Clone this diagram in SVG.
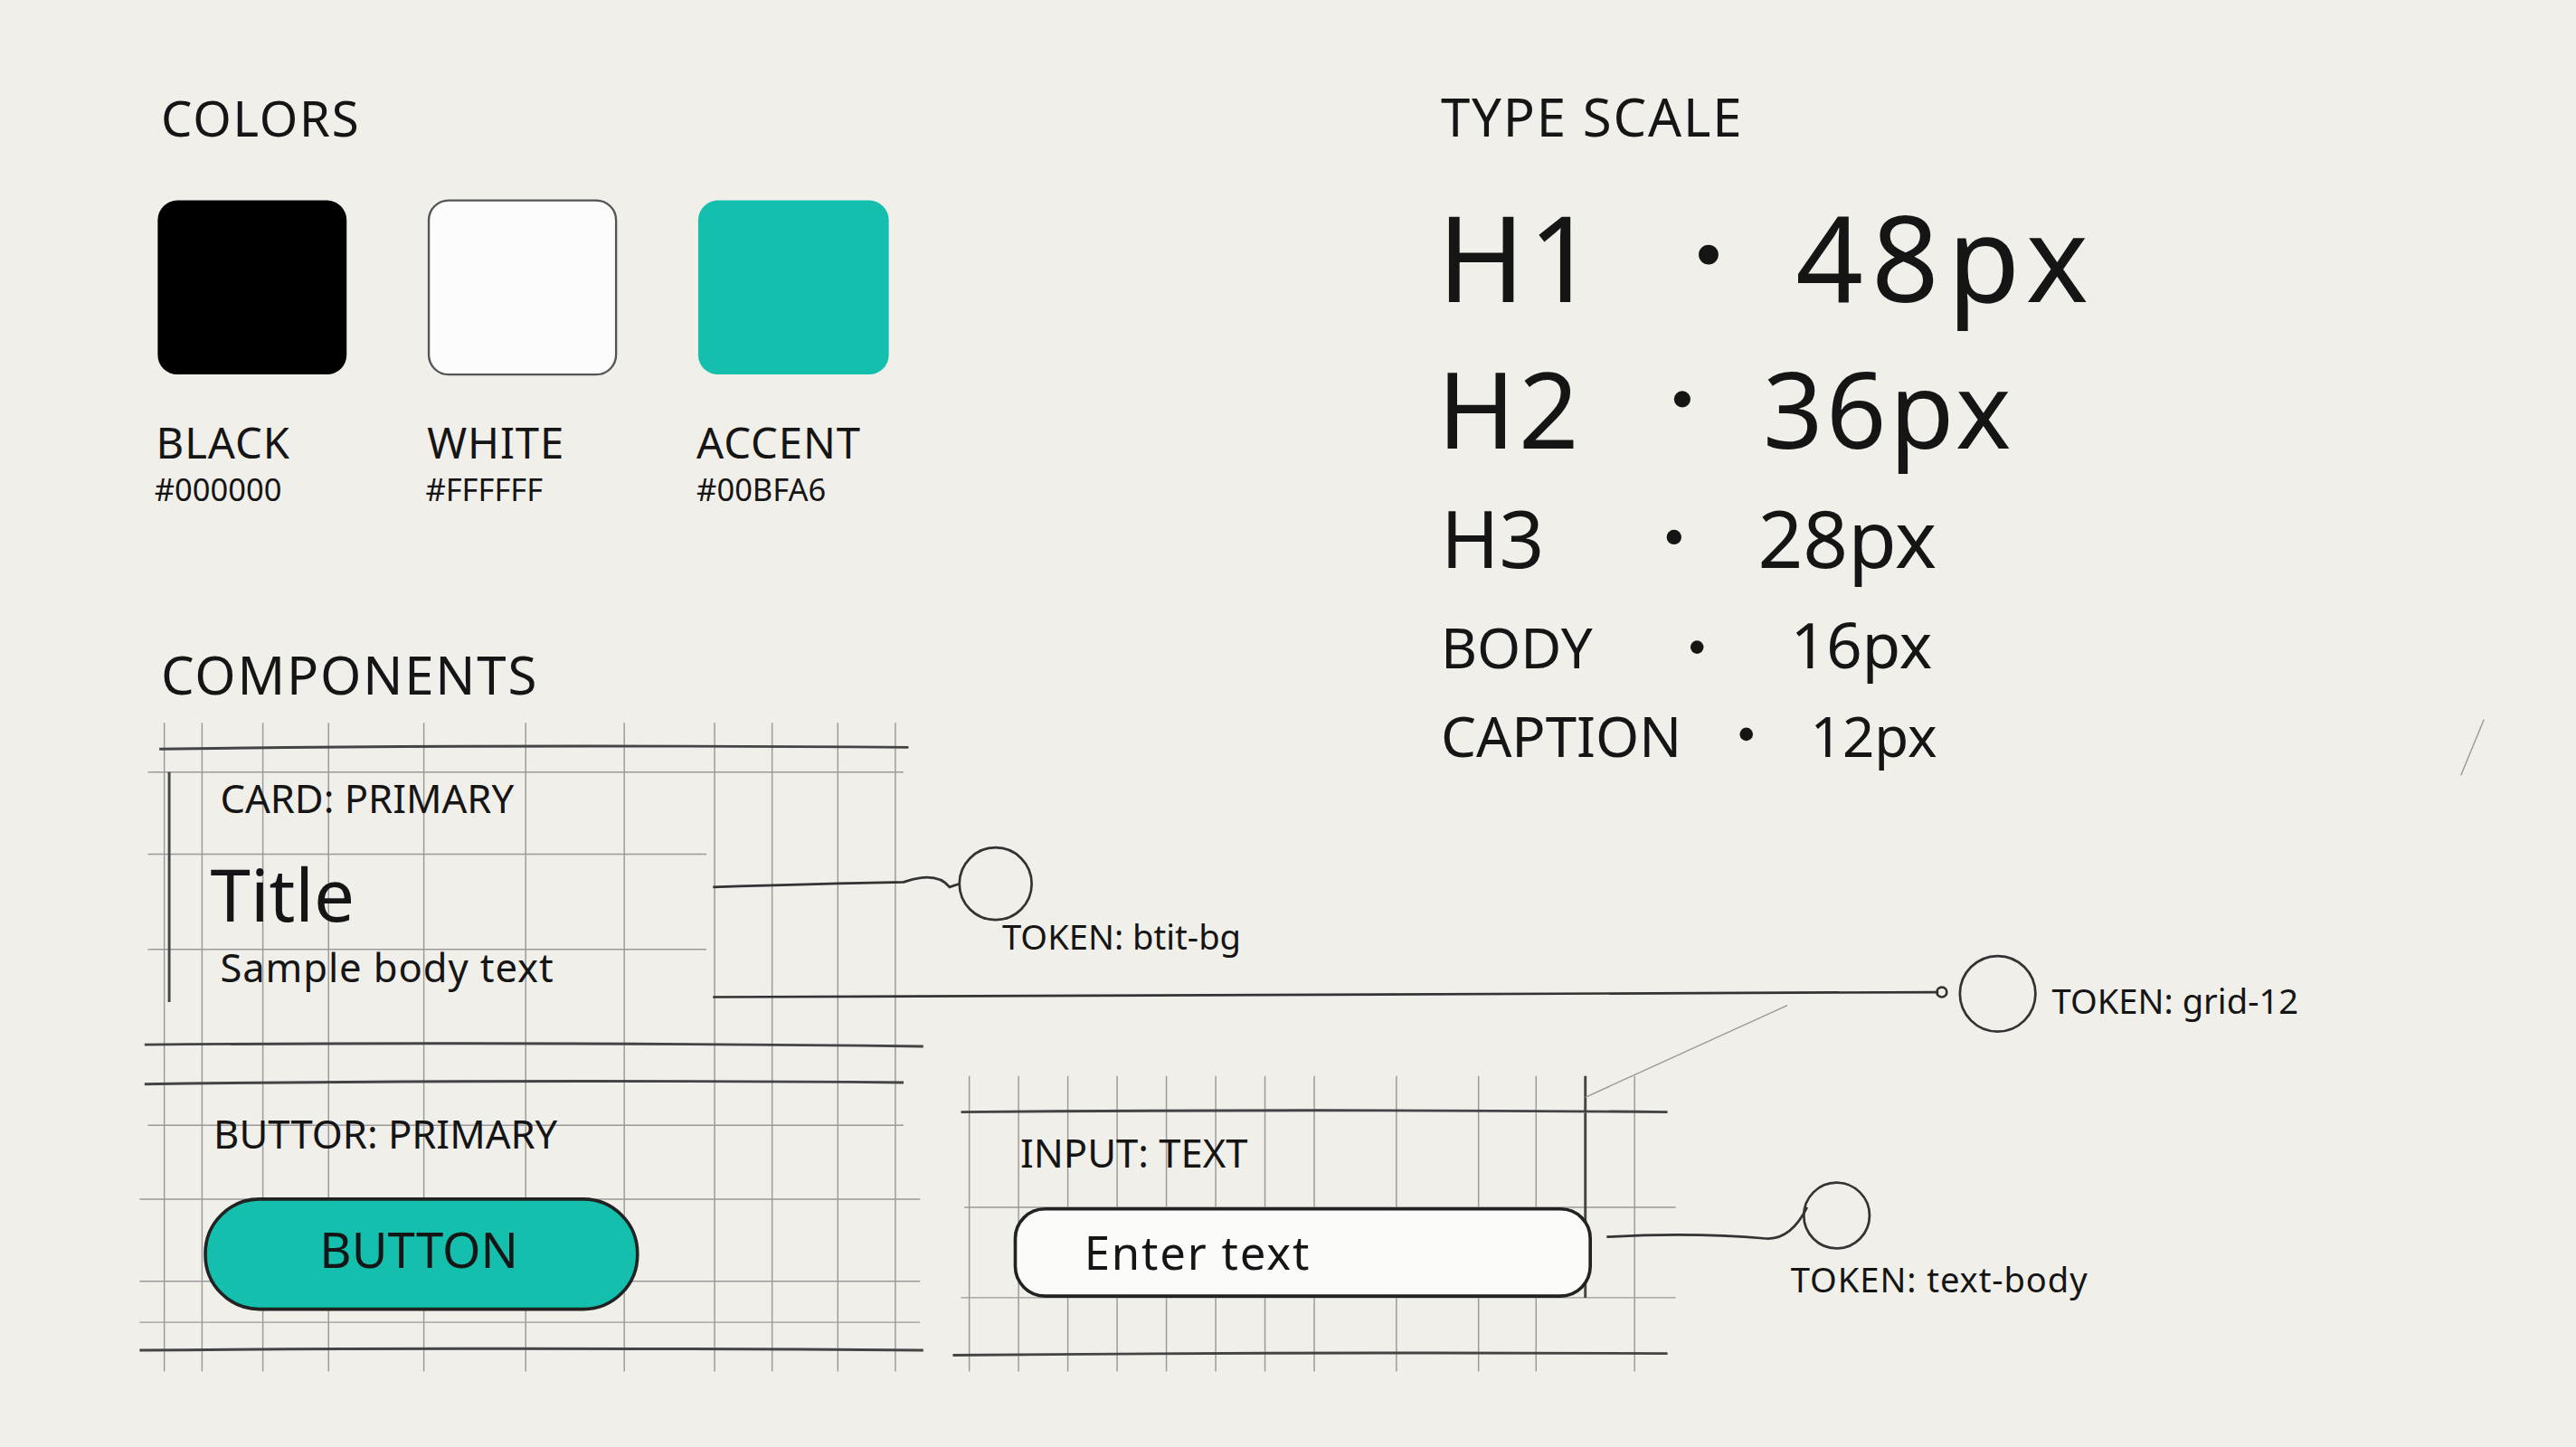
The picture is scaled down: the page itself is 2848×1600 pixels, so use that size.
<svg xmlns="http://www.w3.org/2000/svg" width="2848" height="1600" viewBox="0 0 2848 1600">
<style>
.t{font-family:"Noto Sans","Liberation Sans",sans-serif;fill:#151515}
.g{stroke:#9a9a9a;stroke-width:0.8;fill:none}
.h{stroke:#444;stroke-width:1.6;fill:none}
.c{stroke:#333;stroke-width:1.5;fill:none}
</style>
<rect width="2848" height="1600" fill="#f1efea"/>
<g transform="scale(1.8163)">
<g id="colors">
<text class="t" x="98" y="83" font-size="30" letter-spacing="1">COLORS</text>
<rect x="96" y="122" width="115" height="106" rx="12" fill="#000"/>
<rect x="261" y="122" width="114" height="106" rx="12" fill="#fcfcfc" stroke="#555" stroke-width="1.3"/>
<rect x="425" y="122" width="116" height="106" rx="12" fill="#14bfad"/>
<text class="t" x="95" y="279" font-size="26" letter-spacing="0.5">BLACK</text>
<text class="t" x="94" y="305" font-size="19">#000000</text>
<text class="t" x="260" y="279" font-size="26" letter-spacing="0.5">WHITE</text>
<text class="t" x="259" y="305" font-size="19">#FFFFFF</text>
<text class="t" x="424" y="279" font-size="26" letter-spacing="0.5">ACCENT</text>
<text class="t" x="424" y="305" font-size="19">#00BFA6</text>
</g>
<g id="typescale">
<text class="t" x="877" y="83" font-size="32" letter-spacing="1">TYPE SCALE</text>
<text class="t" x="875" y="184" font-size="72" letter-spacing="2">H1</text>
<circle cx="1040" cy="155" r="6" fill="#151515"/>
<text class="t" x="1093" y="184" font-size="72" letter-spacing="5">48px</text>
<text class="t" x="875" y="273" font-size="64" letter-spacing="2">H2</text>
<circle cx="1024" cy="243" r="5" fill="#151515"/>
<text class="t" x="1073" y="273" font-size="64" letter-spacing="2">36px</text>
<text class="t" x="877" y="346" font-size="48">H3</text>
<circle cx="1019" cy="327" r="4.5" fill="#151515"/>
<text class="t" x="1070" y="346" font-size="48">28px</text>
<text class="t" x="877" y="407" font-size="34">BODY</text>
<circle cx="1033" cy="394" r="4" fill="#151515"/>
<text class="t" x="1090" y="407" font-size="38">16px</text>
<text class="t" x="877" y="461" font-size="34">CAPTION</text>
<circle cx="1063" cy="447" r="4" fill="#151515"/>
<text class="t" x="1102" y="461" font-size="34">12px</text>
</g>
<g id="components-grid">
<text class="t" x="98" y="423" font-size="32" letter-spacing="1">COMPONENTS</text>
<path class="g" d="M100 440V835M123 440V835M160 440V835M200 440V835M258 440V835M320 440V835M380 440V835M435 440V835M470 440V835M510 440V835M545 440V835"/>
<path class="g" d="M90 470H550M90 520H430M90 578H430M90 685H550M85 730H560M85 780H560M85 805H560"/>
<path class="h" d="M97 456Q300 453 553 455M103 470V610M88 636Q300 634 562 637M88 660Q300 657 550 659M85 822Q300 820 562 822"/>
<path class="g" d="M590 655V835M620 655V835M650 655V835M680 655V835M710 655V835M740 655V835M770 655V835M800 655V835M850 655V835M900 655V835M935 655V835M995 655V835M587 735H1020M585 790H1020"/>
<path class="h" d="M585 677Q800 675 1015 677M965 655V790M580 825Q800 823 1015 824"/>
</g>
<g id="card">
<text class="t" x="134" y="495" font-size="24">CARD: PRIMARY</text>
<text class="t" x="128" y="561" font-size="44">Title</text>
<text class="t" x="134" y="598" font-size="24" letter-spacing="0.5">Sample body text</text>
</g>
<g id="button">
<text class="t" x="130" y="699" font-size="24">BUTTOR: PRIMARY</text>
<rect x="125" y="730" width="263" height="67" rx="33" fill="#14bfad" stroke="#222" stroke-width="2"/>
<text class="t" x="255" y="772" font-size="30" text-anchor="middle">BUTTON</text>
</g>
<g id="input">
<text class="t" x="621" y="711" font-size="24">INPUT: TEXT</text>
<rect x="618" y="736" width="350" height="53" rx="18" fill="#fbfbfa" stroke="#222" stroke-width="2"/>
<text class="t" x="660" y="773" font-size="28" letter-spacing="1">Enter text</text>
</g>
<g id="tokens">
<circle cx="606" cy="538" r="22" class="c"/>
<text class="t" x="610" y="578" font-size="21">TOKEN: btit-bg</text>
<circle cx="1216" cy="605" r="23" class="c"/>
<text class="t" x="1249" y="617" font-size="21">TOKEN: grid-12</text>
<circle cx="1118" cy="740" r="20" class="c"/>
<text class="t" x="1090" y="787" font-size="21" letter-spacing="0.5">TOKEN: text-body</text>
</g>
<g id="connectors">
<path class="c" d="M434 540Q500 538 550 537Q570 530 578 540L584 538"/>
<path class="c" d="M434 607Q800 605 1180 604"/>
<circle cx="1182" cy="604" r="3" class="c"/>
<path class="c" d="M978 753Q1030 750 1075 754Q1090 755 1100 735"/>
<path class="g" stroke="#555" d="M965 668L1088 612"/>
<path class="g" d="M1512 438L1498 472"/>
</g>
</g>
</svg>
